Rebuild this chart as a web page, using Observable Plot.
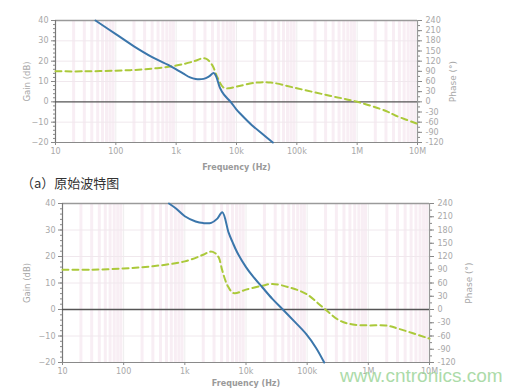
<!DOCTYPE html>
<html><head><meta charset="utf-8">
<script src="https://cdn.jsdelivr.net/npm/d3@7"></script>
<script src="https://cdn.jsdelivr.net/npm/@observablehq/plot@0.6"></script>
<style>
body{margin:0;background:#fff;width:524px;height:392px;position:relative;overflow:hidden}
#top{position:absolute;left:0;top:0}
#bot{position:absolute;left:0;top:192px}
#cap{position:absolute;left:21px;top:175px;font:13px "Noto Sans CJK SC";color:#333;line-height:16px}
#wm{position:absolute;left:340px;top:366px;font:19px "Liberation Sans";color:#a4d8a0;opacity:0.9;line-height:20px}
</style></head><body>
<div id="top"></div><div id="cap">（a）原始波特图</div><div id="bot"></div><div id="wm">www.cntronics.com</div>
<script>
const freqTicks = [10, 100, 1e3, 1e4, 1e5, 1e6, 1e7];
const freqTickLabels = ["10", "100", "1k", "10k", "100k", "1M", "10M"];
const gainTicks = [-20, -10, 0, 10, 20, 30, 40];
const phaseTicks = [-120, -90, -60, -30, 0, 30, 60, 90, 120, 150, 180, 210, 240];

// (a) original Bode plot
const topGainFreq = [46, 100, 200, 400, 800, 1000, 1300, 1700, 2100, 2850, 3500, 4200, 4600, 5300, 6200, 8000, 10000, 11700, 18000, 27000, 40000];
const topGain = [40, 33.3, 27.3, 22, 17.6, 16, 14, 12, 11.2, 11.3, 12.5, 14.2, 12.5, 7, 3.5, 0, -3.8, -6, -11.5, -15.8, -20];
const topPhaseFreq = [10, 30, 100, 300, 1000, 2000, 2850, 3300, 4000, 4860, 6100, 7500, 10000, 22000, 37000, 100000, 350000, 1e6, 3e6, 4.4e6, 1e7];
const topPhase = [90, 90, 92, 96, 107, 120, 129, 125, 107, 71, 42, 40, 45, 57, 57, 40, 18, 0, -27, -41, -65];

// second Bode plot
const botGainFreq = [550, 700, 1000, 1500, 2000, 2700, 3400, 4100, 5200, 6000, 7200, 10000, 13000, 18600, 27000, 40000, 60000, 96000, 140000, 190000];
const botGain = [40, 38.3, 35.2, 33.2, 32.6, 32.7, 34.3, 36.7, 29, 25.5, 21.5, 16, 12.5, 8.3, 4, 0, -4.2, -9.2, -14.5, -20];
const botPhaseFreq = [10, 30, 100, 300, 1000, 2000, 2600, 3100, 3600, 4100, 5000, 6300, 10000, 18600, 27000, 51000, 96000, 180000, 340000, 560000, 1e6, 1.9e6, 3.2e6, 1e7];
const botPhase = [90, 90, 93, 98, 109, 124, 131, 128, 117, 88, 54, 37, 45, 54, 58, 50, 35.5, 5, -25, -34, -36, -36, -44, -66];

const minorFreq = [];
for (let d = 10; d < 1e7; d *= 10) for (let k = 2; k < 10; k++) minorFreq.push(k * d);
const gridGain = [-10, 10, 20, 30];
const minorGain = d3.range(-20, 41, 2);
const minorPhase = d3.range(-120, 241, 15);

const BLUE = "#3b76ab", GREEN = "#abc93a";

function bode(c) {
  return Plot.plot({
    width: 524, height: c.height,
    marginTop: c.mt, marginBottom: c.mb, marginLeft: c.ml, marginRight: c.mr,
    style: {fontFamily: "DejaVu Sans", fontSize: "8px", color: "#a8a8a8", background: "transparent", overflow: "visible"},
    x: {type: "log", domain: [10, 1e7]},
    y: {domain: [-20, 40]},
    marks: [
      Plot.ruleX(minorFreq, {stroke: "#f8eef4", strokeWidth: 3}),
      Plot.ruleX(freqTicks, {stroke: "#eeeeee", strokeWidth: 1}),
      Plot.ruleY(gridGain, {stroke: "#f0e8ed", strokeWidth: 1}),
      Plot.ruleY([40], {stroke: "#9a9a9a", strokeWidth: 1.5}),
      Plot.ruleY([-20], {stroke: "#8a8a8a", strokeWidth: 1.2}),
      Plot.ruleX([10], {stroke: "#777", strokeWidth: 1.2}),
      Plot.ruleX([1e7], {stroke: "#999", strokeWidth: 1.2}),
      Plot.ruleY([0], {stroke: "#555", strokeWidth: 1.4}),
      Plot.axisX(freqTicks, {anchor: "bottom", tickSize: 3, tickPadding: 3, stroke: "#888",
        tickFormat: d => freqTickLabels[freqTicks.indexOf(d)], label: null}),
      Plot.axisY(minorGain, {anchor: "left", tickSize: 2, stroke: "#888", tickFormat: () => "", label: null}),
      Plot.axisY(gainTicks, {anchor: "left", tickSize: 4, tickPadding: 3, stroke: "#888", label: null}),
      Plot.axisY(minorPhase.map(d => d / 6), {anchor: "right", tickSize: 2, stroke: "#888", tickFormat: () => "", label: null}),
      Plot.axisY(phaseTicks.map(d => d / 6), {anchor: "right", tickSize: 4, tickPadding: 4, stroke: "#888",
        tickFormat: d => String(Math.round(d * 6)), label: null}),
      Plot.text(["Frequency (Hz)"], {frameAnchor: "bottom", lineAnchor: "middle", textAnchor: "middle", dy: c.fdy, fontWeight: "bold", fill: "#9a9a9a", fontSize: 8}),
      Plot.text(["Gain (dB)"], {frameAnchor: "left", lineAnchor: "middle", textAnchor: "middle", dx: c.gdx, rotate: -90, fill: "#a8a8a8", fontSize: 8.5}),
      Plot.text(["Phase (°)"], {frameAnchor: "right", lineAnchor: "middle", textAnchor: "middle", dx: c.pdx, rotate: -90, fill: "#a8a8a8", fontSize: 9}),
      Plot.line(c.phase, {x: (d, i) => c.phaseF[i], y: d => d / 6, stroke: GREEN, strokeWidth: 2, strokeDasharray: "6,4", curve: "catmull-rom"}),
      Plot.line(c.gain, {x: (d, i) => c.gainF[i], y: d => d, stroke: BLUE, strokeWidth: 2, curve: "catmull-rom"})
    ]
  });
}

document.getElementById("top").append(bode({
  height: 176, mt: 20, mb: 34, ml: 55, mr: 107, fdy: 25, gdx: -28, pdx: 36,
  gainF: topGainFreq, gain: topGain, phaseF: topPhaseFreq, phase: topPhase
}));
document.getElementById("bot").append(bode({
  height: 200, mt: 11, mb: 30, ml: 62, mr: 95, fdy: 21, gdx: -35, pdx: 40,
  gainF: botGainFreq, gain: botGain, phaseF: botPhaseFreq, phase: botPhase
}));
</script>
</body></html>
